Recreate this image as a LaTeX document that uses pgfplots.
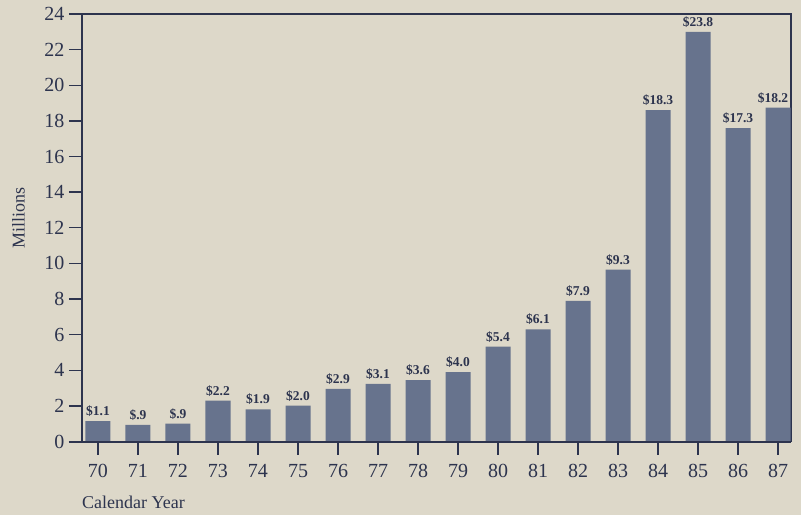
\documentclass[border=0pt]{standalone}
\usepackage{pgfplots}
\pgfplotsset{compat=1.18}
\usepackage{fontspec}
\setmainfont{Liberation Serif}
\definecolor{bg}{RGB}{221,216,201}
\definecolor{barc}{RGB}{103,115,141}
\definecolor{ink}{RGB}{45,52,78}
\begin{document}
\begin{tikzpicture}
\fill[bg] (-82pt,-73.5pt) rectangle (719pt,441.5pt);
\useasboundingbox (-82pt,-73.5pt) rectangle (719pt,441.5pt);
\begin{axis}[
  at={(0,0)}, anchor=south west, scale only axis,
  width=709pt, height=427.5pt,
  xmin=69.6, xmax=87.325, ymin=0, ymax=24,
  ytick={0,2,...,24}, xtick={70,...,87},
  tick pos=left, tick align=outside,
  major tick length=13pt,
  tick style={ink, line width=1.3pt},
  axis line style={ink, line width=1.1pt},
  /pgf/number format/assume math mode=true,
  ticklabel style={font=\fontsize{20}{20}\selectfont, text=ink},
  yticklabel style={xshift=-1pt},
  xticklabel style={yshift=-6pt},
  every axis y label/.style={at={(rel axis cs:0,0.523)}, xshift=-63.5pt, rotate=90, anchor=center, font=\fontsize{18}{18}\selectfont, text=ink},
  every axis x label/.style={at={(rel axis cs:0,0)}, yshift=-61pt, anchor=west, inner sep=0pt, font=\fontsize{18}{18}\selectfont, text=ink},
  ylabel={Millions},
  xlabel={Calendar Year},
  ybar, bar width=25pt,
  clip=false,
  point meta=explicit symbolic,
  visualization depends on={\thisrow{dx} \as \dx},
  nodes near coords={\$\pgfplotspointmeta},
  every node near coord/.append style={font=\bfseries\fontsize{13.5}{13.5}\selectfont, text=ink, anchor=south, yshift=1pt, xshift=\dx pt},
]
\addplot[fill=barc, draw=none] table[x=x, y=y, meta=lab] {
x y lab dx
70 1.15 1.1 0
71 0.94 .9 0
72 1.00 .9 0
73 2.29 2.2 0
74 1.81 1.9 0
75 2.01 2.0 0
76 2.95 2.9 0
77 3.23 3.1 0
78 3.44 3.6 0
79 3.90 4.0 0
80 5.32 5.4 0
81 6.30 6.1 0
82 7.90 7.9 0
83 9.65 9.3 0
84 18.60 18.3 0
85 23.00 23.8 0
86 17.60 17.3 0
87 18.74 18.2 -5
};
\end{axis}
\draw[ink, line width=2pt] (-13pt,0) -- (709pt,0);
\draw[ink, line width=2pt] (0,0) -- (0,427.5pt);
\end{tikzpicture}
\end{document}
